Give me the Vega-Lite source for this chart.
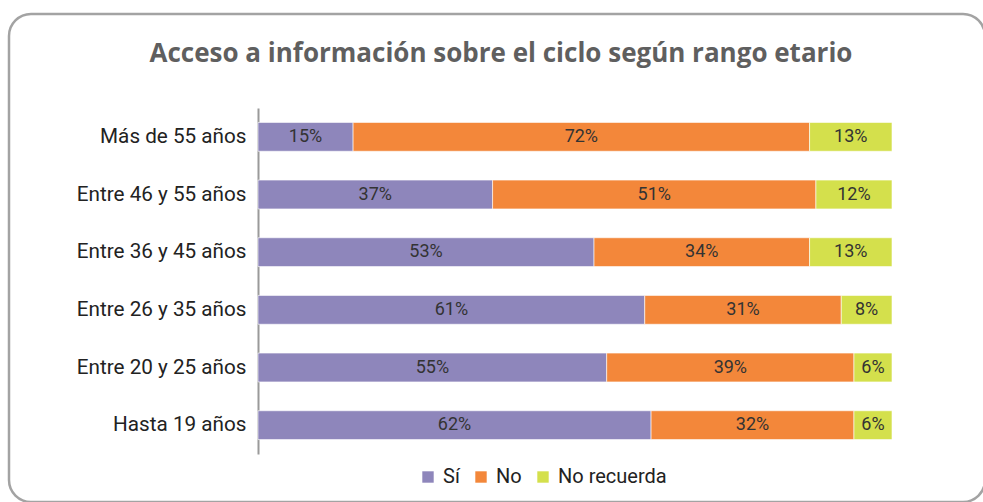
{
  "$schema": "https://vega.github.io/schema/vega-lite/v6.json",
  "autosize": {"type": "none"},
  "padding": {"left": 9, "top": 14, "right": 0, "bottom": 0},
  "width": 976,
  "height": 488,
  "background": "white",
  "config": {
    "view": {"stroke": "#a3a3a3", "strokeWidth": 2.5, "cornerRadius": 22},
    "font": "Roboto"
  },
  "title": {
    "text": "Acceso a información sobre el ciclo según rango etario",
    "font": "Open Sans",
    "fontSize": 26,
    "fontWeight": "bold",
    "color": "#5f5f5f",
    "anchor": "middle",
    "baseline": "middle",
    "offset": -66,
    "dx": 4
  },
  "data": {
    "values": [
      {"edad": "Más de 55 años", "respuesta": "Sí", "orden": 1, "valor": 15},
      {"edad": "Más de 55 años", "respuesta": "No", "orden": 2, "valor": 72},
      {"edad": "Más de 55 años", "respuesta": "No recuerda", "orden": 3, "valor": 13},
      {"edad": "Entre 46 y 55 años", "respuesta": "Sí", "orden": 1, "valor": 37},
      {"edad": "Entre 46 y 55 años", "respuesta": "No", "orden": 2, "valor": 51},
      {"edad": "Entre 46 y 55 años", "respuesta": "No recuerda", "orden": 3, "valor": 12},
      {"edad": "Entre 36 y 45 años", "respuesta": "Sí", "orden": 1, "valor": 53},
      {"edad": "Entre 36 y 45 años", "respuesta": "No", "orden": 2, "valor": 34},
      {"edad": "Entre 36 y 45 años", "respuesta": "No recuerda", "orden": 3, "valor": 13},
      {"edad": "Entre 26 y 35 años", "respuesta": "Sí", "orden": 1, "valor": 61},
      {"edad": "Entre 26 y 35 años", "respuesta": "No", "orden": 2, "valor": 31},
      {"edad": "Entre 26 y 35 años", "respuesta": "No recuerda", "orden": 3, "valor": 8},
      {"edad": "Entre 20 y 25 años", "respuesta": "Sí", "orden": 1, "valor": 55},
      {"edad": "Entre 20 y 25 años", "respuesta": "No", "orden": 2, "valor": 39},
      {"edad": "Entre 20 y 25 años", "respuesta": "No recuerda", "orden": 3, "valor": 6},
      {"edad": "Hasta 19 años", "respuesta": "Sí", "orden": 1, "valor": 62},
      {"edad": "Hasta 19 años", "respuesta": "No", "orden": 2, "valor": 32},
      {"edad": "Hasta 19 años", "respuesta": "No recuerda", "orden": 3, "valor": 6}
    ]
  },
  "transform": [
    {"calculate": "datum.valor + '%'", "as": "etiqueta"}
  ],
  "encoding": {
    "y": {
      "field": "edad",
      "type": "nominal",
      "sort": ["Más de 55 años", "Entre 46 y 55 años", "Entre 36 y 45 años", "Entre 26 y 35 años", "Entre 20 y 25 años", "Hasta 19 años"],
      "scale": {"range": [94, 440], "paddingInner": 0.5, "paddingOuter": 0.25},
      "axis": {
        "title": null,
        "orient": "left",
        "offset": -249,
        "ticks": false,
        "labelPadding": 12,
        "labelFontSize": 20.7,
        "labelColor": "#222222",
        "labelFont": "Roboto",
        "domainColor": "#9a9a9a",
        "domainWidth": 2
      }
    },
    "x": {
      "field": "valor",
      "type": "quantitative",
      "stack": "zero",
      "scale": {"domain": [0, 100], "range": [249, 883], "nice": false},
      "axis": null
    },
    "order": {"field": "orden", "type": "quantitative"}
  },
  "layer": [
    {
      "mark": {"type": "bar", "stroke": "white", "strokeWidth": 0.6},
      "encoding": {
        "color": {
          "field": "respuesta",
          "type": "nominal",
          "sort": ["Sí", "No", "No recuerda"],
          "scale": {"domain": ["Sí", "No", "No recuerda"], "range": ["#8e86bb", "#f3873a", "#d4e04c"]},
          "legend": {
            "title": null,
            "orient": "none",
            "direction": "horizontal",
            "legendX": 409,
            "legendY": 453,
            "symbolType": "square",
            "symbolSize": 130,
            "symbolStrokeWidth": 0,
            "symbolOpacity": 1,
            "labelFontSize": 20,
            "labelColor": "#222222",
            "labelFont": "Roboto",
            "labelOffset": 5,
            "columnPadding": 11
          }
        }
      }
    },
    {
      "mark": {"type": "text", "fontSize": 18, "color": "#333333", "baseline": "middle", "font": "Roboto"},
      "encoding": {
        "x": {"field": "valor", "type": "quantitative", "stack": "zero", "bandPosition": 0.5},
        "text": {"field": "etiqueta", "type": "nominal"}
      }
    }
  ]
}
